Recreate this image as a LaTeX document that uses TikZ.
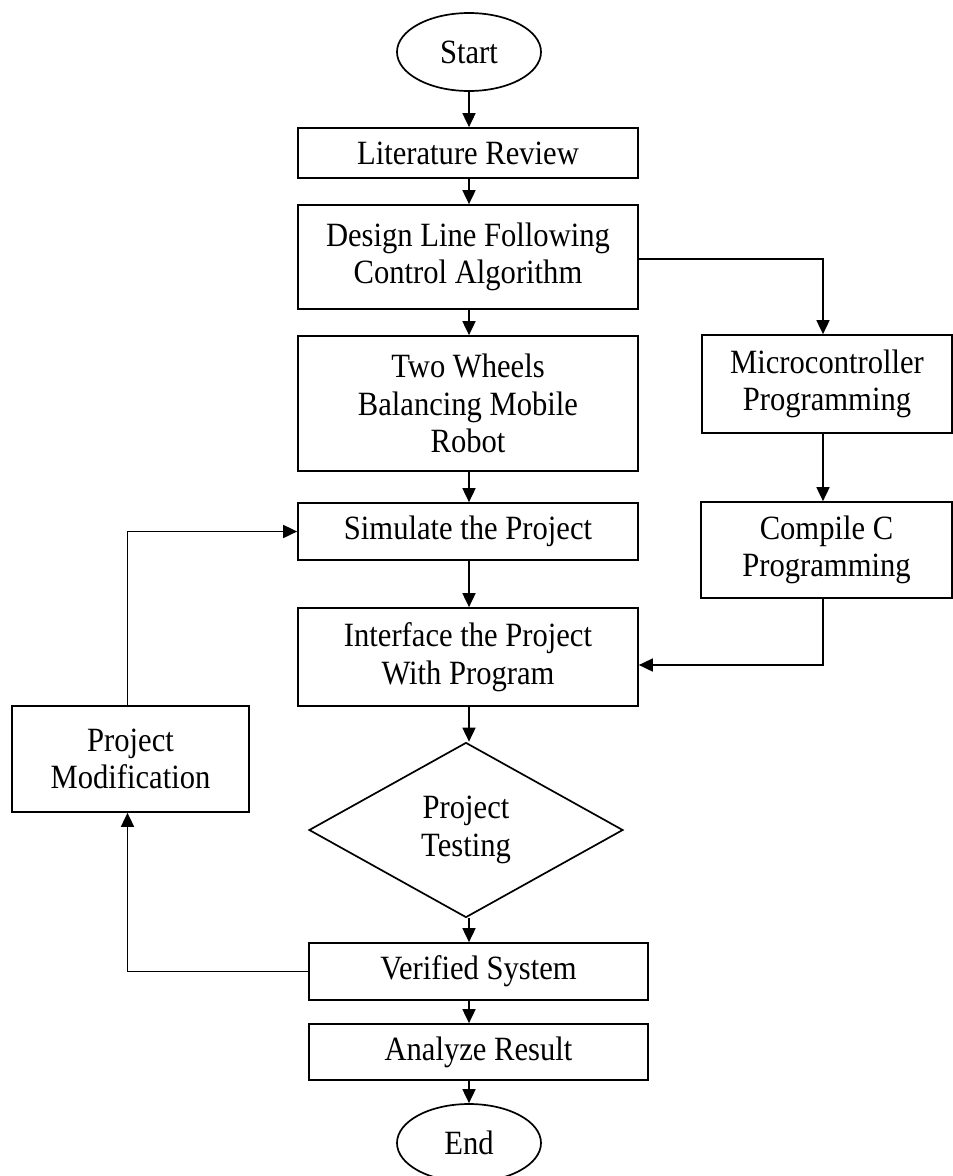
\documentclass[tikz,border=0pt]{standalone}
\usepackage{fontspec}
\setmainfont{Liberation Serif}[FakeStretch=0.9]
\usetikzlibrary{shapes.geometric,arrows.meta}
\begin{document}
\begin{tikzpicture}[x=1pt,y=-1pt,
  txt/.style={font=\fontsize{34}{37.7}\selectfont, align=center},
  flowbox/.style={txt, rectangle, draw, line width=1.7pt, inner sep=0pt},
  term/.style={txt, ellipse, draw, line width=1.7pt, inner sep=0pt,
    minimum width=144pt, minimum height=78pt},
  decision/.style={txt, diamond, draw, line width=1.7pt, inner sep=0pt,
    aspect=1.79, minimum width=314pt, minimum height=175pt},
  arr/.style={line width=1.7pt, -{Triangle[length=14pt,width=13pt]}}
]
\useasboundingbox (0,0) rectangle (953,1176);

% main column
\node[term] (start) at (469,52) {Start};
\node[flowbox, minimum width=340pt, minimum height=50pt] (lit) at (468,153) {Literature Review};
\node[flowbox, minimum width=340pt, minimum height=104pt] (design) at (468,257) {Design Line Following\\Control Algorithm};
\node[flowbox, minimum width=340pt, minimum height=135pt] (wheels) at (468,403.5) {Two Wheels\\Balancing Mobile\\Robot};
\node[flowbox, minimum width=340pt, minimum height=57pt] (sim) at (468,531.5) {Simulate the Project};
\node[flowbox, minimum width=340pt, minimum height=98pt] (iface) at (468,657) {Interface the Project\\With Program};
\node[decision] (test) at (466,830) {Project\\Testing};
\node[flowbox, minimum width=339pt, minimum height=57pt] (verified) at (478.5,971.5) {Verified System};
\node[flowbox, minimum width=339pt, minimum height=56pt] (analyze) at (478.5,1052) {Analyze Result};
\node[term] (end) at (469,1143) {End};

% side branches
\node[flowbox, minimum width=250pt, minimum height=98pt] (micro) at (827,384) {Microcontroller\\Programming};
\node[flowbox, minimum width=251pt, minimum height=96pt] (compile) at (826.5,550) {Compile C\\Programming};
\node[flowbox, minimum width=237pt, minimum height=106pt] (modif) at (130.5,759) {Project\\Modification};

% connector columns
\coordinate (mx) at (469,0);
\coordinate (rx) at (823,0);

\draw[arr] (start.south) -- (start.south |- lit.north);
\draw[arr] (lit.south -| mx) -- (design.north -| mx);
\draw[arr] (design.south -| mx) -- (wheels.north -| mx);
\draw[arr] ([yshift=-2pt]design.east) -| (micro.north -| rx);
\draw[arr] (micro.south -| rx) -- (compile.north -| rx);
\draw[arr] (wheels.south -| mx) -- (sim.north -| mx);
\draw[arr] (sim.south -| mx) -- (iface.north -| mx);
\draw[arr] (compile.south -| rx) |- ([yshift=-8pt]iface.east);
\draw[arr] (iface.south -| mx) -- (test.north -| mx);
\draw[arr] (test.south -| mx) -- (verified.north -| mx);
\draw[arr] (verified.south -| mx) -- (analyze.north -| mx);
\draw[arr] (analyze.south -| mx) -- (end.north);
\draw[arr] (verified.west) -| ([xshift=-3pt]modif.south);
\draw[arr] ([xshift=-3pt]modif.north) |- (sim.west);
\end{tikzpicture}
\end{document}
